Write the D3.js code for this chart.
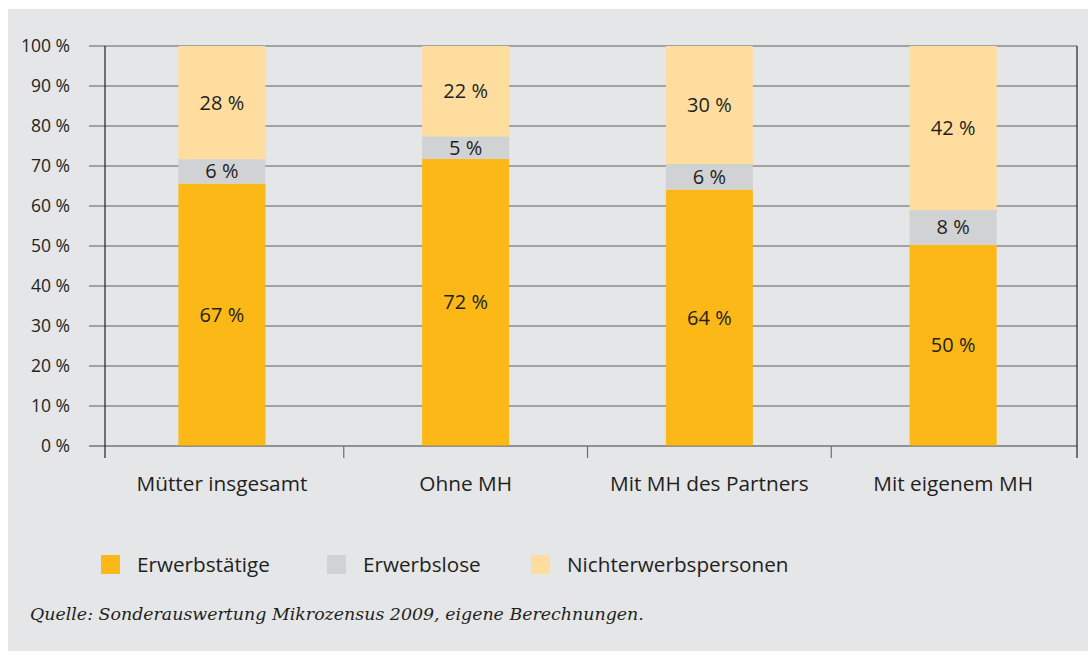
<!DOCTYPE html>
<html>
<head>
<meta charset="utf-8">
<script src="https://cdn.jsdelivr.net/npm/d3@7"></script>
<style>
  body { margin: 0; background: #fff; }
  svg { display: block; }
  text { font-family: "Open Sans", "Noto Sans", sans-serif; fill: #231f20; }
</style>
</head>
<body>
<svg width="1088" height="651"></svg>
<script>
// categories and series (shares as drawn, labels as printed)
const categories = ["Mütter insgesamt", "Ohne MH", "Mit MH des Partners", "Mit eigenem MH"];
const seriesNames = ["Erwerbstätige", "Erwerbslose", "Nichterwerbspersonen"];
const erwerbstaetige = [65.6, 71.8, 64.1, 50.3];
const erwerbslose = [6.1, 5.6, 6.4, 8.7];
const nichterwerbspersonen = [28.3, 22.6, 29.5, 41.0];
const labelsErwerbstaetige = ["67 %", "72 %", "64 %", "50 %"];
const labelsErwerbslose = ["6 %", "5 %", "6 %", "8 %"];
const labelsNichterwerbspersonen = ["28 %", "22 %", "30 %", "42 %"];
const yTicks = [0, 10, 20, 30, 40, 50, 60, 70, 80, 90, 100];
const source = "Quelle: Sonderauswertung Mikrozensus 2009, eigene Berechnungen.";

const colors = ["#fbb817", "#d1d2d4", "#fedd9f"];
const seriesValues = [erwerbstaetige, erwerbslose, nichterwerbspersonen];
const seriesLabels = [labelsErwerbstaetige, labelsErwerbslose, labelsNichterwerbspersonen];

const svg = d3.select("svg");
const width = +svg.attr("width");
const height = +svg.attr("height");

// gray panel
svg.append("rect")
	.attr("x", 8)
	.attr("y", 9)
	.attr("width", width - 8)
	.attr("height", height - 9)
	.attr("fill", "#e5e6e8");

const rows = categories.map((c, i) => {
	const r = { cat: c };
	seriesNames.forEach((s, j) => r[s] = seriesValues[j][i]);
	return r;
});
const stacked = d3.stack().keys(seriesNames)(rows);

const x = d3.scaleBand()
	.domain(categories)
	.range([100, 1075])
	.paddingInner(0.643)
	.paddingOuter(0.3215);

const y = d3.scaleLinear()
	.domain([0, 100])
	.range([446, 46]);

const axisLeft = 105;
const axisRight = 1077;

// gridlines
svg.append("g")
	.selectAll("line")
	.data(yTicks)
	.join("line")
		.attr("x1", 89)
		.attr("x2", axisRight)
		.attr("y1", d => y(d))
		.attr("y2", d => y(d))
		.attr("stroke", "#5d5e61")
		.attr("stroke-width", 1.2);

// y tick labels
svg.append("g")
	.selectAll("text")
	.data(yTicks)
	.join("text")
		.attr("x", 70)
		.attr("y", d => y(d))
		.attr("dy", "0.35em")
		.attr("text-anchor", "end")
		.attr("font-size", 17.5)
		.text(d => `${d} %`);

// bars
const layers = svg.append("g")
	.selectAll("g")
	.data(stacked)
	.join("g")
		.attr("fill", (d, i) => colors[i]);

layers.selectAll("rect")
	.data(d => d)
	.join("rect")
		.attr("x", d => x(d.data.cat))
		.attr("width", x.bandwidth())
		.attr("y", d => y(d[1]))
		.attr("height", d => y(d[0]) - y(d[1]));

// segment labels
layers.each(function(layer, li) {
	d3.select(this).selectAll("text")
		.data(layer)
		.join("text")
			.attr("x", d => x(d.data.cat) + x.bandwidth() / 2)
			.attr("y", d => (y(d[0]) + y(d[1])) / 2)
			.attr("dy", "0.35em")
			.attr("text-anchor", "middle")
			.attr("font-size", 20)
			.text((d, i) => seriesLabels[li][i]);
});

// baseline over bars
svg.append("line")
	.attr("x1", 89)
	.attr("x2", axisRight)
	.attr("y1", y(0))
	.attr("y2", y(0))
	.attr("stroke", "#6d6e71")
	.attr("stroke-opacity", 0.6)
	.attr("stroke-width", 1.2);

// axis lines and category ticks
const tickXs = categories.slice(1).map(c => x(c) - x.step() * x.paddingInner() / 2);
svg.append("g")
	.selectAll("line")
	.data([axisLeft, ...tickXs, axisRight])
	.join("line")
		.attr("x1", d => d)
		.attr("x2", d => d)
		.attr("y1", (d, i, n) => (i === 0 || i === n.length - 1) ? y(100) : y(0))
		.attr("y2", y(0) + 12)
		.attr("stroke", (d, i, n) => (i === 0 || i === n.length - 1) ? "#231f20" : "#6d6e71")
		.attr("stroke-width", 1.2);

// category labels
svg.append("g")
	.selectAll("text")
	.data(categories)
	.join("text")
		.attr("x", d => x(d) + x.bandwidth() / 2)
		.attr("y", 491)
		.attr("text-anchor", "middle")
		.attr("font-size", 20.8)
		.text(d => d);

// legend
const legendXs = [101, 327, 531];
const legend = svg.append("g")
	.selectAll("g")
	.data(seriesNames)
	.join("g")
		.attr("transform", (d, i) => `translate(${legendXs[i]}, 555)`);

legend.append("rect")
	.attr("width", 19)
	.attr("height", 19)
	.attr("fill", (d, i) => colors[i]);

legend.append("text")
	.attr("x", 36)
	.attr("y", 17)
	.attr("font-size", 20.7)
	.text(d => d);

// source
svg.append("text")
	.attr("x", 30)
	.attr("y", 620)
	.attr("font-size", 17.4)
	.attr("font-style", "italic")
	.style("font-family", "'DejaVu Serif', serif")
	.text(source);
</script>
</body>
</html>
